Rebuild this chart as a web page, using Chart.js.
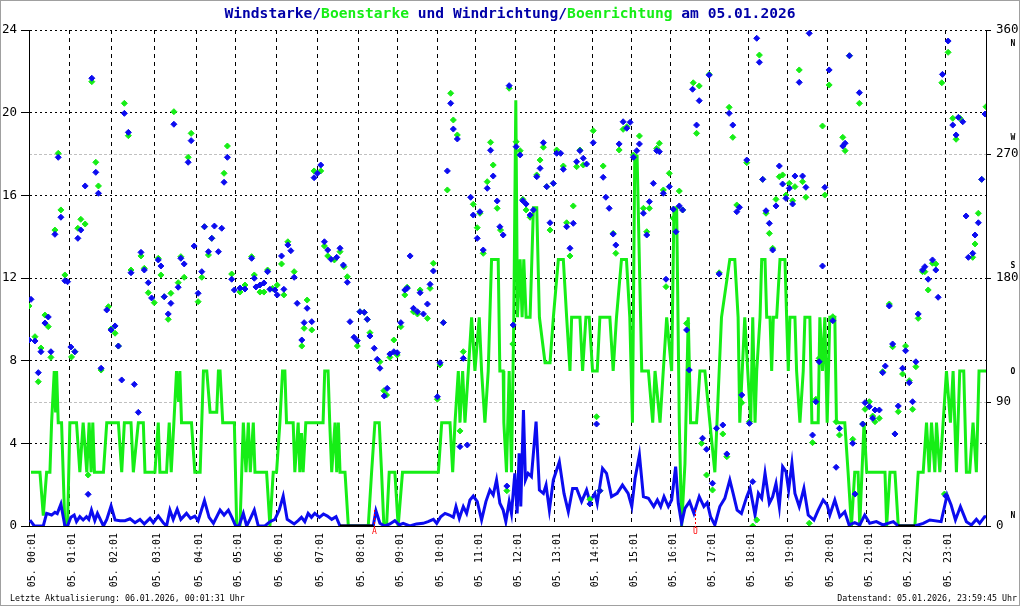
<!DOCTYPE html>
<html>
<head>
<meta charset="utf-8">
<script src="https://cdn.jsdelivr.net/npm/chart.js@4.4.1/dist/chart.umd.min.js"></script>
<style>
  html, body { margin: 0; padding: 0; background: #fff; }
  #wrap { width: 1020px; height: 606px; position: relative; }
</style>
</head>
<body>
<div id="wrap"><canvas id="wind"></canvas></div>
<script>
// Messwerte 05.01.2026, x = Messung Nr. (5-Minuten-Takt), [Messung, Wert]
var hourStart = [0.2, 12.1, 24.9, 37.7, 50.5, 62.2, 74.5, 86.8, 99.1, 111.0, 122.9, 134.5,
  146.3, 158.1, 169.5, 181.4, 193.0, 204.7, 216.5, 228.3, 240.2, 252.1, 263.8, 275.9];
var hourLabels = hourStart.map(function (v, i) { return '05. ' + (i < 10 ? '0' : '') + i + ':01'; });

// Windstarke [Messung, m/s]
var windSpeed = [[0.3,0.29],[1.6,0],[4.3,0],[5.3,0.61],[6.8,0.53],[7.8,0.66],[8.5,0.6],[9.6,1.06],[10.8,0],[11.6,0],
  [12.6,0.42],[13.6,0.53],[14.3,0.21],[15.3,0.45],[16.3,0.29],[17.3,0.45],[18.0,0.32],[18.8,0.77],[19.8,0.26],[20.6,0.61],
  [22.4,0],[23.4,0.32],[24.7,0.97],[25.9,0.29],[27.4,0.26],[28.9,0.26],[30.4,0.35],[31.9,0.16],[33.4,0.32],[34.7,0.1],
  [36.4,0.37],[37.4,0.16],[38.9,0.48],[40.4,0.16],[41.4,0],[42.4,0.77],[43.4,0.32],[44.6,0.81],[45.7,0.32],[47.4,0.61],
  [48.6,0.37],[49.9,0.48],[50.9,0.26],[52.8,1.23],[54.2,0.42],[55.5,0.13],[57.5,0.77],[58.7,0.53],[60.0,0.77],[61.2,0.37],
  [62.2,0],[63.2,0],[64.5,0.61],[65.5,0],[66.5,0.32],[67.8,0.77],[69.0,0],[71.0,0],[72.5,0.21],[74.0,0.32],
  [75.3,0.77],[76.5,1.45],[77.7,0.32],[78.8,0.21],[79.8,0.1],[81.0,0.26],[82.0,0.42],[83.0,0.21],[84.0,0.61],[85.0,0.42],
  [86.0,0.61],[87.4,0.42],[88.6,0.58],[89.8,0.48],[91.1,0.32],[92.4,0.45],[93.6,0],[103.6,0],[104.4,0.74],[105.6,0.13],
  [107.1,0],[108.6,0.1],[110.1,0.26],[111.4,0.05],[112.6,0.13],[114.6,0],[116.6,0.1],[118.6,0.13],[120.1,0.21],[121.7,0.32],
  [122.7,0.13],[123.9,0.45],[125.2,0.61],[126.5,0.53],[127.7,0.42],[128.5,0.94],[129.5,0.37],[130.7,0.94],[131.7,0.61],[132.7,1.26],
  [133.7,1.45],[134.9,1.18],[136.2,0.29],[137.5,1.18],[138.7,1.74],[139.7,1.5],[140.7,2.23],[141.7,1.1],[142.7,0.77],[143.5,0.21],
  [144.5,1.18],[145.2,0.61],[146.2,2.55],[146.9,0.61],[147.5,3.52],[148.0,0.94],[148.8,5.61],[149.4,2.23],[150.2,2.55],[151.2,2.39],
  [152.6,5.05],[153.6,1.74],[154.8,1.58],[155.6,1.98],[156.6,0.77],[157.8,2.23],[159.6,3.11],[161.0,1.58],[162.3,0.69],[163.6,1.82],
  [164.8,1.82],[166.3,1.18],[167.8,1.74],[168.8,1.18],[170.3,1.58],[171.0,1.1],[172.6,2.79],[173.8,2.55],[175.3,1.42],[177.0,1.58],
  [178.6,1.98],[180.3,1.58],[181.4,0.94],[182.4,2.31],[183.7,3.44],[184.9,1.42],[186.4,1.34],[188.0,0.94],[189.1,1.26],[190.1,0.94],
  [191.1,1.42],[192.4,0.94],[193.4,1.26],[194.6,2.87],[195.4,1.1],[196.4,0.13],[197.4,0.85],[198.8,1.18],[200.1,0.61],[201.7,1.42],
  [203.1,0.94],[204.1,1.13],[205.1,0.45],[206.4,0.05],[207.9,0.94],[209.4,1.34],[210.9,2.23],[211.9,1.58],[213.1,0.77],[214.4,0.61],
  [216.0,1.42],[217.0,1.82],[218.5,0.53],[219.5,1.58],[220.5,1.34],[221.5,2.55],[222.8,1.1],[223.8,1.42],[224.8,2.06],[225.8,0.94],
  [226.8,2.87],[227.8,2.63],[228.6,1.74],[229.6,3.03],[230.5,1.58],[231.8,0.94],[233.2,1.82],[234.5,0.53],[236.2,0.29],[237.5,0.77],
  [239.0,1.26],[240.2,1.02],[241.0,0.53],[242.5,1.26],[244.0,0.45],[245.5,0.69],[246.8,0.05],[248.5,0.16],[250.0,0.05],[251.5,0.53],
  [253.0,0.13],[255.0,0.21],[257.0,0.05],[260.1,0.21],[261.6,0],[266.6,0],[269.1,0.13],[271.1,0.29],[274.5,0.21],[276.3,1.5],
  [277.5,1.02],[278.8,0.29],[280.3,0.94],[282.1,0.21],[283.6,0.05],[285.1,0.32],[286.1,0.13],[287.6,0.45],[288,0.45]];

// Boenstarke [Messung, m/s]
var gustSpeed = [[0.6,2.6],[3.3,2.6],[4.3,0.5],[5.3,2.6],[6.3,2.6],[6.8,5],[7.6,7.5],[8.0,5.5],[8.3,7.5],[8.8,5],[9.8,5],[10.8,0],
  [11.6,0],[12.3,5],[14.3,5],[15.3,2.6],[16.3,5],[17.4,2.6],[18.1,5],[18.7,2.6],[19.2,5],[19.7,2.6],[22.4,2.6],[23.4,5],
  [26.9,5],[27.9,2.6],[28.7,5],[30.7,5],[31.4,2.6],[32.9,5],[34.4,5],[34.9,2.6],[37.9,2.6],[38.9,5],[39.4,2.6],[41.4,2.6],
  [42.2,5],[42.8,2.6],[43.6,5],[44.4,7.5],[45.0,6],[45.4,7.5],[45.9,5],[48.9,5],[49.9,2.6],[51.5,2.6],[52.5,7.5],[53.5,7.5],
  [54.5,5.5],[56.5,5.5],[57.0,7.5],[57.5,7.5],[58.3,5],[61.8,5],[62.5,0],[63.5,0],[64.5,5],[65.3,2.6],[66.0,5],[66.6,2.6],
  [67.5,5],[68.0,2.6],[71.5,2.6],[72.5,0],[73.5,2.6],[74.5,2.6],[75.5,5],[76.3,7.5],[77.0,7.5],[77.5,5],[79.5,5],[80.0,2.6],
  [81.0,5],[81.5,2.6],[82.0,4.5],[82.5,2.6],[83.3,5],[88.5,5],[89.0,7.5],[90.0,7.5],[90.5,5],[91.1,2.6],[92.1,5],[92.6,2.6],
  [93.1,5],[93.6,2.6],[95.1,2.6],[96.1,0],[102.1,0],[103.1,2.6],[104.1,5],[105.4,5],[106.1,2.6],[106.8,0],[107.6,0],[108.4,2.6],
  [110.1,2.6],[111.1,0],[112.4,2.6],[123.2,2.6],[124.2,5],[126.7,5],[127.5,2.6],[128.2,5],[129.2,7.5],[129.7,5],[130.5,7.5],[131.2,5],
  [132.2,7.5],[133.2,10.1],[134.2,7.5],[135.5,10.1],[136.2,7.5],[137.2,5],[138.2,7.5],[139.2,12.9],[141.2,12.9],[141.7,7.5],[142.7,7.5],[142.9,5],
  [143.7,2.6],[144.5,7.5],[145.2,2.6],[145.9,10.1],[146.5,20.6],[147.0,10.1],[147.8,12.9],[148.4,10.1],[148.9,12.9],[149.6,10.1],[150.8,10.1],[151.8,15.4],
  [152.8,15.4],[153.6,10.1],[155.3,7.9],[156.8,7.9],[157.8,10.1],[159.3,12.9],[160.8,12.9],[161.8,10.1],[162.8,7.5],[163.3,10.1],[165.8,10.1],[166.6,7.5],
  [167.6,10.1],[168.6,10.1],[169.6,7.5],[171.0,7.5],[171.8,10.1],[174.8,10.1],[175.8,7.5],[176.8,10.1],[178.3,12.9],[179.8,12.9],[180.8,10.1],[181.6,5],
  [182.3,17.9],[183.0,17.9],[184.4,7.5],[186.4,7.5],[187.7,5],[188.4,7.5],[189.9,5],[191.9,10.1],[193.4,7.5],[194.1,15.4],[194.9,15.4],[195.7,5],
  [196.4,0],[197.4,3],[198.4,10.1],[199.1,5],[200.9,5],[201.9,7.5],[203.4,7.5],[204.9,5],[206.4,2.6],[208.4,10.1],[210.9,12.9],[212.4,12.9],
  [213.4,10.1],[213.9,5],[215.4,10.1],[216.3,7.5],[217.2,5],[217.8,10.1],[218.5,5],[219.0,7.5],[220.0,10.1],[220.5,12.9],[221.5,12.9],[222.0,10.1],
  [223.0,10.1],[223.5,7.5],[224.0,10.1],[225.0,10.1],[226.0,12.9],[227.5,12.9],[228.0,10.1],[228.5,7.5],[229.0,10.1],[230.5,10.1],[231.0,7.5],[232.0,5],
  [233.0,7.5],[233.5,10.1],[235.0,10.1],[235.6,5],[237.5,5],[238.0,10.1],[238.8,7.5],[239.5,10.1],[240.2,5],[241.0,10.1],[242.5,10.1],[243.0,5],
  [245.5,5],[246.5,2.6],[247.5,0],[248.5,2.6],[249.5,2.6],[250.0,0],[251.3,5],[252.1,2.6],[257.6,2.6],[258.1,0],[259.1,2.6],[260.6,2.6],
  [261.6,0],[266.6,0],[267.6,2.6],[269.1,2.6],[270.1,5],[270.9,2.6],[271.6,5],[272.6,2.6],[273.1,5],[274.1,2.6],[275.1,5],[276.1,7.5],
  [277.3,5],[278.1,7.5],[279.1,2.6],[280.1,7.5],[281.3,7.5],[282.1,2.6],[283.1,2.6],[284.1,5],[285.1,2.6],[285.9,7.5],[288,7.5]];

// Windrichtung [Messung, Grad]
var windDir = [[0.0,135],[0.6,164.5],[1.8,134.3],[2.8,111.3],[3.6,126.5],[4.8,147.3],[5.8,151.7],[6.6,126.5],[7.8,211.7],[8.8,267.6],
  [9.6,224.1],[10.8,178],[11.6,177.3],[12.6,129.9],[13.8,126.5],[14.7,208.8],[15.6,214.8],[16.9,246.8],[17.8,23],[18.9,325],
  [20.1,256.7],[20.9,241.5],[21.7,114.5],[23.4,156.8],[24.7,142.3],[25.9,145.2],[26.9,130.6],[27.9,106],[28.7,299.5],[29.9,285.7],
  [30.7,183.8],[31.7,102.8],[32.9,82.5],[33.7,198.6],[34.7,185.8],[35.9,176.6],[36.9,165.5],[38.9,193.1],[39.7,188.7],[40.7,166.4],
  [41.9,153.9],[42.7,161.6],[43.6,291.6],[44.9,173.3],[45.7,194.3],[46.7,190.2],[47.9,264],[48.8,279.7],[49.7,203.2],[50.9,168.9],
  [52.0,184.6],[52.8,217.2],[54.0,199.1],[55.0,208.8],[55.8,217.7],[57.0,199.1],[58.0,216.1],[58.7,249.5],[59.7,267.6],[61.0,179.1],
  [61.8,171.3],[63.5,172.7],[65.0,172],[67.0,194.3],[67.8,179.8],[68.3,173.5],[69.5,174.9],[70.7,176.4],[71.8,184.6],[72.5,171.8],
  [74.0,171.3],[74.7,167.7],[76.0,196],[76.7,171.8],[77.9,204],[78.8,199.8],[79.8,180.5],[80.7,161.6],[82.1,135],[82.8,147.6],
  [83.7,158],[85.1,148.3],[85.8,252.8],[86.8,256],[87.8,262],[88.9,206.3],[89.9,200.3],[90.9,193.6],[92.6,195],[93.6,201.6],
  [94.6,189.4],[95.8,176.9],[96.6,148.3],[97.8,137],[98.8,134.5],[99.6,155.5],[100.9,155.1],[101.8,150],[102.6,137.9],[103.9,129],
  [104.8,121],[105.6,114.5],[106.9,94.4],[107.8,99.9],[108.6,124.8],[109.8,126.5],[110.8,125.8],[111.9,147.6],[113.1,171.3],[113.8,172.5],
  [114.7,196],[115.7,158],[116.9,155.5],[117.7,169.3],[118.7,153.9],[119.9,161.1],[120.7,175.4],[121.7,185.1],[122.9,93.8],[123.7,118.5],
  [124.7,147.6],[125.9,257.7],[126.9,306.8],[127.7,288.1],[128.9,280.9],[129.7,57.6],[130.7,121.7],[131.9,58.8],[132.9,238.6],[133.7,225.7],
  [134.9,208.8],[135.7,228.1],[136.7,200.3],[137.9,245.1],[138.9,272.7],[139.7,254],[140.9,235.9],[141.7,217.2],[142.7,211.2],[143.8,29],
  [144.5,319.6],[145.7,145.9],[146.6,275.3],[147.8,269.3],[148.6,236.1],[149.6,233.7],[150.8,225.7],[151.8,229.4],[152.8,253.5],[153.8,259.6],
  [154.8,278.2],[155.8,246.3],[156.8,220.1],[157.8,248.7],[158.8,270.5],[160.0,270.5],[160.8,258.9],[161.8,217.2],[162.8,201.6],[163.8,219.7],
  [164.8,264.4],[165.8,272.4],[166.8,266.9],[167.8,262.7],[168.8,16],[169.8,278.2],[170.8,74],[171.8,25.6],[172.8,253.1],[173.6,238.6],
  [174.6,230.6],[175.8,211.9],[176.6,203.9],[177.6,277.3],[178.8,293.4],[179.9,288.7],[180.9,293],[181.9,267.6],[182.9,272.4],[183.7,277.3],
  [184.9,227],[185.9,211.2],[186.7,235.4],[187.9,248.7],[188.9,272.4],[189.7,271.7],[190.9,241.5],[191.7,179.1],[192.7,246.3],[193.9,229.9],
  [194.7,213.6],[195.7,232.3],[196.7,229.4],[197.9,142.3],[198.7,113.2],[199.7,317],[200.9,291],[201.7,308.7],[202.7,63.7],[203.9,55.7],
  [204.7,327.3],[205.7,31],[206.9,70.9],[207.7,182.9],[208.8,73.3],[210.0,52.3],[210.7,299.5],[211.8,291],[213.0,228.1],[213.8,231.3],
  [214.5,95.1],[216.0,265.6],[216.8,74.5],[217.8,32.2],[219.0,354],[219.8,336.6],[220.8,251.6],[221.8,228.8],[222.8,219.7],[223.8,200.3],
  [224.8,232.3],[225.8,261.3],[226.8,248.2],[227.8,237.8],[228.8,245.1],[229.8,233.7],[230.5,254],[231.8,322],[232.8,254],[233.8,245.8],
  [234.8,357.6],[235.8,66],[236.8,90.2],[237.8,119.2],[238.8,188.7],[239.5,245.8],[240.8,331],[241.9,149],[242.9,42.6],[243.9,70.9],
  [244.9,275.8],[245.6,277.8],[246.9,341.3],[247.9,60],[248.6,23.2],[249.9,314.5],[250.9,74],[251.6,89.5],[252.9,86.6],[253.9,78.2],
  [254.6,84.2],[255.9,84.2],[256.9,111.3],[257.7,116.1],[258.9,159.7],[259.9,132.1],[260.6,66.8],[261.6,87.1],[262.9,114.5],[263.8,127.2],
  [264.9,104],[265.9,90.2],[266.9,119.2],[267.6,153.9],[268.9,185.8],[269.6,188.2],[270.6,179.1],[271.9,193.1],[272.9,185.8],[273.6,166],
  [274.9,327.8],[275.9,21.8],[276.6,352],[278.0,291],[279.0,283.8],[279.7,296.6],[281.0,293.4],[282.0,225],[282.7,195],[284.0,197.9],
  [284.7,211.2],[285.7,220.1],[286.7,251.6],[287.7,299]];

// Boenrichtung [Messung, Grad]
var gustDir = [[0.0,159.7],[1.8,137.4],[2.8,104.7],[3.6,129.2],[4.8,153.1],[5.8,144.7],[6.6,122.4],[7.8,214.8],[8.8,270.5],[9.6,229.4],
  [10.8,182.2],[12.8,122.7],[13.8,126.5],[14.7,216.1],[15.6,222.6],[16.9,219.2],[17.8,37],[18.9,322.5],[20.1,264],[20.9,246.8],
  [21.7,113.2],[23.9,159.2],[24.7,143],[25.9,139.9],[26.9,130.6],[28.7,306.8],[29.9,283.3],[30.7,185.8],[33.7,196],[34.7,187],
  [35.9,169.3],[37.7,162.1],[38.9,194.3],[39.7,182.2],[40.7,166.4],[41.9,150],[42.7,168.9],[43.6,300.7],[44.9,176.6],[45.7,195.5],
  [46.7,180.5],[47.9,267.6],[48.8,285],[50.9,162.8],[52.0,180.5],[52.8,217.2],[54.0,196.7],[55.0,208.8],[58.7,256],[59.7,275.8],
  [61.0,182.9],[63.5,169.8],[65.0,174.9],[67.0,195.5],[67.8,182.2],[69.5,169.8],[70.7,169.8],[71.8,185.8],[73.3,172.5],[74.7,174.9],
  [76.0,190.2],[76.7,167.7],[77.9,206.3],[79.8,184.6],[82.1,130.6],[82.8,143.5],[83.7,164],[85.1,142.3],[85.8,257.7],[87.8,257.7],
  [88.9,203.2],[89.9,196],[91.9,193.1],[93.6,199.1],[94.8,188.2],[95.8,180.9],[98.8,130.6],[99.6,155.5],[100.9,155.1],[101.8,150],
  [102.6,140.3],[105.6,119.2],[106.8,98.2],[107.6,95.1],[108.6,122.4],[109.8,135],[110.8,124.1],[111.9,144.7],[113.1,167.7],[113.8,173.3],
  [115.7,155.5],[116.9,153.9],[117.7,171.3],[119.9,150.7],[120.7,172.5],[121.7,190.7],[122.9,92],[123.7,116.9],[124.7,147.6],[125.9,243.9],
  [126.9,314.1],[127.7,294.7],[128.9,283.8],[129.7,69],[130.7,126.5],[133.7,233.5],[134.9,216.5],[135.7,227],[136.7,197.9],[137.9,249.9],
  [138.9,278.5],[139.7,262],[140.9,230.6],[141.9,214.8],[143.8,25.6],[144.5,317.7],[145.6,132.1],[146.6,278.9],[147.8,272.4],[148.6,237.1],
  [149.6,229.4],[150.8,224.1],[152.8,254.8],[153.8,265.6],[154.8,274.9],[155.8,246.3],[156.8,214.8],[157.8,248.7],[158.8,272.9],[160.8,261.3],
  [161.8,220.1],[162.8,196],[163.8,232.3],[164.8,260.8],[165.8,272.9],[166.8,262],[168.8,19.4],[169.8,286.9],[170.8,79.3],[171.8,25.6],
  [172.8,261.3],[175.8,212.4],[176.6,197.9],[177.6,272.9],[178.8,287.9],[179.9,289.8],[181.9,269.3],[183.7,283.1],[184.9,230.6],[185.9,213.6],
  [186.7,230.6],[188.9,274.1],[189.7,277.8],[190.9,243.9],[191.7,173.7],[192.7,256],[193.9,223.3],[195.7,243.1],[196.7,229.4],[197.9,147.1],
  [199.9,321.7],[200.9,285],[201.7,319.4],[202.4,60],[203.9,37],[204.7,327.8],[205.7,26.1],[207.7,183.8],[208.8,66.8],[210.0,50.3],
  [210.7,303.9],[211.8,282.1],[213.0,233],[214.5,89.5],[216.0,263.7],[216.8,75.7],[217.8,0],[219.0,4.4],[219.8,341.8],[220.8,251.6],
  [221.8,227],[222.8,212.4],[223.8,201.6],[224.8,237.1],[225.8,253.5],[226.8,254.8],[227.8,240.2],[228.8,248.7],[229.8,236.1],[230.5,246.3],
  [231.8,331],[232.8,249.9],[233.8,238.6],[234.8,2],[235.8,60.5],[236.8,92],[237.8,121.7],[238.8,290.3],[239.5,240.2],[240.8,320.1],
  [241.9,151.9],[242.9,75.7],[243.9,66],[244.9,282.1],[245.6,272.4],[246.9,341.3],[247.9,62.9],[248.6,23.2],[249.9,306.8],[250.9,74],
  [251.6,84.7],[252.9,90.2],[253.9,79.8],[254.6,75.7],[255.9,78.2],[256.9,112],[258.9,161.1],[259.9,130.1],[260.6,66.8],[261.6,83],
  [262.9,110.3],[263.8,130.6],[264.9,105.5],[265.9,84.7],[266.9,115.6],[267.6,150.7],[268.9,184.6],[269.6,184.6],[270.6,171.3],[271.9,190.7],
  [272.9,190.2],[274.7,321.7],[275.5,23.2],[276.6,343.8],[278.0,295.9],[279.0,280.7],[280.2,295.9],[284.0,195],[284.7,204.7],[285.7,227],
  [286.7,251.6],[288.0,304.3]];

// Windstille (Messung von - bis)
var calmFrom = [93.6, 261.6];
var calmTo = [103.6, 266.6];

// Sonnenaufgang / -untergang
var sunSample = [103.9, 200.3];
var sunLabel = ['A', 'U'];

var dirTicks = [0, 90, 180, 270, 360];
var compass = ['N', 'W', 'S', 'O', 'N'];

var FONT = '"DejaVu Sans Mono", "Liberation Mono", monospace';
var BLUE = '#0c0cf0';
var GREEN = '#16ee16';

function toXY(pairs) {
  return pairs.map(function (p) { return { x: p[0], y: p[1] }; });
}

var calmData = [];
calmFrom.forEach(function (f, i) {
  calmData.push({ x: f, y: 0 }, { x: calmTo[i], y: 0 }, { x: calmTo[i] + 0.1, y: null });
});

// Rahmen, Titel, Fusszeilen, Himmelsrichtungen, Sonnenmarken
var decorations = {
  id: 'decorations',
  beforeDraw: function (chart) {
    var ctx = chart.ctx;
    ctx.save();
    ctx.fillStyle = '#fff';
    ctx.fillRect(0, 0, chart.width, chart.height);
    ctx.restore();
  },
  afterDraw: function (chart) {
    var ctx = chart.ctx;
    var area = chart.chartArea;
    ctx.save();

    // Titel mehrfarbig
    var parts = [['Windstarke', '#0000a8'], ['/', '#0000a8'], ['Boenstarke', GREEN], [' und ', '#0000a8'],
      ['Windrichtung', '#0000a8'], ['/', '#0000a8'], ['Boenrichtung', GREEN], [' am 05.01.2026', '#0000a8']];
    ctx.font = 'bold 14.6px ' + FONT;
    ctx.textBaseline = 'middle';
    ctx.textAlign = 'left';
    var total = 0;
    parts.forEach(function (p) { total += ctx.measureText(p[0]).width; });
    var x = chart.width / 2 - total / 2;
    parts.forEach(function (p) {
      ctx.fillStyle = p[1];
      ctx.fillText(p[0], x, 14);
      x += ctx.measureText(p[0]).width;
    });

    // Fusszeilen
    ctx.font = '8.3px ' + FONT;
    ctx.fillStyle = '#000';
    ctx.fillText('Letzte Aktualisierung: 06.01.2026, 00:01:31 Uhr', 10, 599);
    ctx.textAlign = 'right';
    ctx.fillText('Datenstand: 05.01.2026, 23:59:45 Uhr', 1017, 599);

    // Himmelsrichtungen rechts
    var y2 = chart.scales.y2;
    var compassDeg = [350, 282, 189, 112, 7];
    ctx.font = 'bold 8px ' + FONT;
    ctx.textAlign = 'center';
    compass.forEach(function (c, i) {
      ctx.fillText(c, area.right + 27, y2.getPixelForValue(compassDeg[i]));
    });

    // Sonnenaufgang / -untergang
    var xs = chart.scales.x;
    ctx.strokeStyle = '#ff0000';
    ctx.fillStyle = '#ff0000';
    ctx.lineWidth = 1;
    ctx.setLineDash([2, 2]);
    ctx.font = '8px ' + FONT;
    ctx.textAlign = 'center';
    sunSample.forEach(function (s, i) {
      var px = Math.round(xs.getPixelForValue(s)) + 0.5;
      ctx.beginPath();
      ctx.moveTo(px, area.bottom - 16);
      ctx.lineTo(px, area.bottom + 2);
      ctx.stroke();
      ctx.fillText(sunLabel[i], px, area.bottom + 6);
    });
    ctx.setLineDash([]);

    // Bildrahmen
    ctx.strokeStyle = '#a0a0a0';
    ctx.strokeRect(0.5, 0.5, chart.width - 1, chart.height - 1);
    ctx.restore();
  }
};

new Chart(document.getElementById('wind'), {
  type: 'line',
  data: {
    datasets: [
      { label: 'Boenstarke', data: toXY(gustSpeed), borderColor: GREEN, borderWidth: 3, pointRadius: 0,
        yAxisID: 'y', order: 5 },
      { label: 'Windstarke', data: toXY(windSpeed), borderColor: BLUE, borderWidth: 3, pointRadius: 0,
        yAxisID: 'y', order: 4 },
      { label: 'Windstille', data: calmData, borderColor: '#000', borderWidth: 3, pointRadius: 0,
        yAxisID: 'y', order: 3 },
      { label: 'Boenrichtung', data: toXY(gustDir), showLine: false, pointStyle: 'rectRot', pointRadius: 3,
        pointBackgroundColor: GREEN, pointBorderColor: GREEN, pointBorderWidth: 1, yAxisID: 'y2', order: 2 },
      { label: 'Windrichtung', data: toXY(windDir), showLine: false, pointStyle: 'rectRot', pointRadius: 3,
        pointBackgroundColor: BLUE, pointBorderColor: BLUE, pointBorderWidth: 1, yAxisID: 'y2', order: 1 }
    ]
  },
  options: {
    responsive: true,
    maintainAspectRatio: false,
    animation: false,
    layout: { padding: { top: 30, left: 0, right: 0, bottom: 0 } },
    elements: { line: { tension: 0 } },
    plugins: {
      legend: { display: false },
      tooltip: { enabled: false },
      title: { display: false }
    },
    scales: {
      x: {
        type: 'linear',
        min: 0,
        max: 288,
        afterBuildTicks: function (s) { s.ticks = hourStart.map(function (v) { return { value: v }; }); },
        afterFit: function (s) { s.height = 80; },
        grid: { color: '#000', lineWidth: 1, drawTicks: false },
        border: { display: true, color: '#000', width: 1, dash: [4, 4] },
        ticks: {
          autoSkip: false, maxRotation: 90, minRotation: 90, padding: 7, labelOffset: 3,
          color: '#000', font: { family: FONT, size: 10 },
          callback: function (v, i) { return hourLabels[i]; }
        }
      },
      y: {
        position: 'left',
        min: 0,
        max: 24,
        afterFit: function (s) { s.width = 29; },
        grid: { color: '#000', lineWidth: 1, tickLength: 8, tickColor: '#000' },
        border: { display: true, color: '#000', width: 1, dash: [2, 3] },
        ticks: { stepSize: 4, padding: 4, color: '#000', font: { family: FONT, size: 12.5 } }
      },
      y2: {
        position: 'right',
        min: 0,
        max: 360,
        afterBuildTicks: function (s) { s.ticks = dirTicks.map(function (v) { return { value: v }; }); },
        afterFit: function (s) { s.width = 34; },
        grid: {
          color: function (c) { return (c.tick && c.tick.value % 180 === 90) ? '#c0c0c0' : 'rgba(0,0,0,0)'; },
          lineWidth: 1, tickLength: 5, tickColor: '#000'
        },
        border: { display: true, color: '#000', width: 1, dash: [3, 2] },
        ticks: { padding: 5, color: '#000', font: { family: FONT, size: 12.5 } }
      }
    }
  },
  plugins: [decorations]
});
</script>
</body>
</html>
